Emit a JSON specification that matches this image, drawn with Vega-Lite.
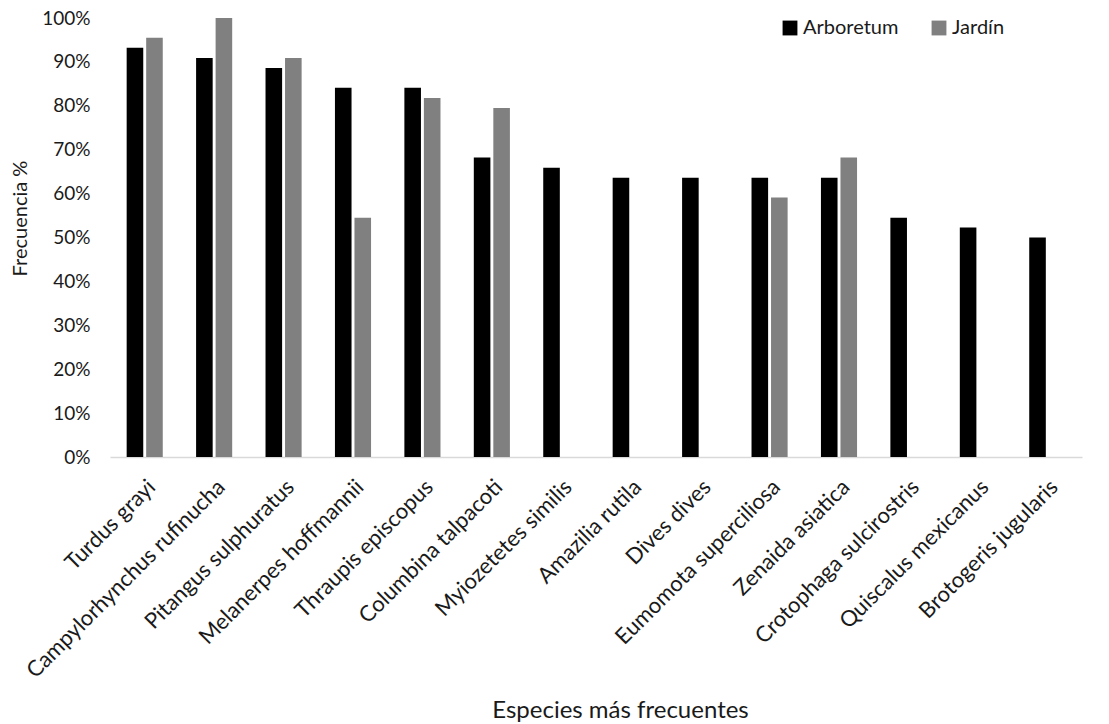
{
  "$schema": "https://vega.github.io/schema/vega-lite/v6.json",
  "autosize": {"type": "none"},
  "width": 972,
  "height": 439,
  "padding": {"left": 110, "top": 18, "right": 27, "bottom": 267},
  "background": "white",
  "config": {
    "font": "Lato",
    "view": {"stroke": null}
  },
  "data": {
    "values": [
      {"especie": "Turdus grayi", "sitio": "Arboretum", "frecuencia": 0.932},
      {"especie": "Turdus grayi", "sitio": "Jardín", "frecuencia": 0.955},
      {"especie": "Campylorhynchus rufinucha", "sitio": "Arboretum", "frecuencia": 0.909},
      {"especie": "Campylorhynchus rufinucha", "sitio": "Jardín", "frecuencia": 1.0},
      {"especie": "Pitangus sulphuratus", "sitio": "Arboretum", "frecuencia": 0.886},
      {"especie": "Pitangus sulphuratus", "sitio": "Jardín", "frecuencia": 0.909},
      {"especie": "Melanerpes hoffmannii", "sitio": "Arboretum", "frecuencia": 0.841},
      {"especie": "Melanerpes hoffmannii", "sitio": "Jardín", "frecuencia": 0.545},
      {"especie": "Thraupis episcopus", "sitio": "Arboretum", "frecuencia": 0.841},
      {"especie": "Thraupis episcopus", "sitio": "Jardín", "frecuencia": 0.818},
      {"especie": "Columbina talpacoti", "sitio": "Arboretum", "frecuencia": 0.682},
      {"especie": "Columbina talpacoti", "sitio": "Jardín", "frecuencia": 0.795},
      {"especie": "Myiozetetes similis", "sitio": "Arboretum", "frecuencia": 0.659},
      {"especie": "Amazilia rutila", "sitio": "Arboretum", "frecuencia": 0.636},
      {"especie": "Dives dives", "sitio": "Arboretum", "frecuencia": 0.636},
      {"especie": "Eumomota superciliosa", "sitio": "Arboretum", "frecuencia": 0.636},
      {"especie": "Eumomota superciliosa", "sitio": "Jardín", "frecuencia": 0.591},
      {"especie": "Zenaida asiatica", "sitio": "Arboretum", "frecuencia": 0.636},
      {"especie": "Zenaida asiatica", "sitio": "Jardín", "frecuencia": 0.682},
      {"especie": "Crotophaga sulcirostris", "sitio": "Arboretum", "frecuencia": 0.545},
      {"especie": "Quiscalus mexicanus", "sitio": "Arboretum", "frecuencia": 0.523},
      {"especie": "Brotogeris jugularis", "sitio": "Arboretum", "frecuencia": 0.5}
    ]
  },
  "mark": {"type": "bar"},
  "encoding": {
    "x": {
      "field": "especie",
      "type": "nominal",
      "sort": null,
      "scale": {"paddingInner": 0.48, "paddingOuter": 0.24},
      "axis": {
        "title": "Especies más frecuentes",
        "titleFont": "Lato",
        "titleFontSize": 24,
        "titleFontWeight": "normal",
        "titleColor": "#1a1a1a",
        "titleX": 510,
        "titleY": 260,
        "titleAlign": "center",
        "titleBaseline": "alphabetic",
        "labelAngle": -45,
        "labelFont": "Lato",
        "labelFontSize": 22,
        "labelColor": "#1a1a1a",
        "labelPadding": 19,
        "labelLimit": 0,
        "ticks": false,
        "domainColor": "#d9d9d9",
        "domainWidth": 1.5,
        "grid": false
      }
    },
    "xOffset": {
      "field": "sitio",
      "type": "nominal",
      "scale": {"domain": ["Arboretum", "Jardín"], "paddingInner": 0.15}
    },
    "y": {
      "field": "frecuencia",
      "type": "quantitative",
      "scale": {"domain": [0, 1], "nice": false},
      "axis": {
        "title": "Frecuencia %",
        "titleFont": "Lato",
        "titleFontSize": 20,
        "titleFontWeight": "normal",
        "titleColor": "#1a1a1a",
        "titleX": -90,
        "titleY": 200,
        "titleAngle": -90,
        "titleAlign": "center",
        "titleBaseline": "middle",
        "format": ".0%",
        "values": [0, 0.1, 0.2, 0.3, 0.4, 0.5, 0.6, 0.7, 0.8, 0.9, 1.0],
        "labelFont": "Lato",
        "labelFontSize": 19,
        "labelColor": "#1a1a1a",
        "labelPadding": 20,
        "ticks": false,
        "domain": false,
        "grid": false
      }
    },
    "color": {
      "field": "sitio",
      "type": "nominal",
      "scale": {"domain": ["Arboretum", "Jardín"], "range": ["#000000", "#808080"]},
      "legend": {
        "title": null,
        "orient": "none",
        "direction": "horizontal",
        "legendX": 670,
        "legendY": 0,
        "symbolType": "square",
        "symbolSize": 220,
        "symbolStrokeWidth": 0,
        "labelFont": "Lato",
        "labelFontSize": 20,
        "labelColor": "#1a1a1a",
        "labelOffset": 3,
        "columnPadding": 30
      }
    }
  }
}
